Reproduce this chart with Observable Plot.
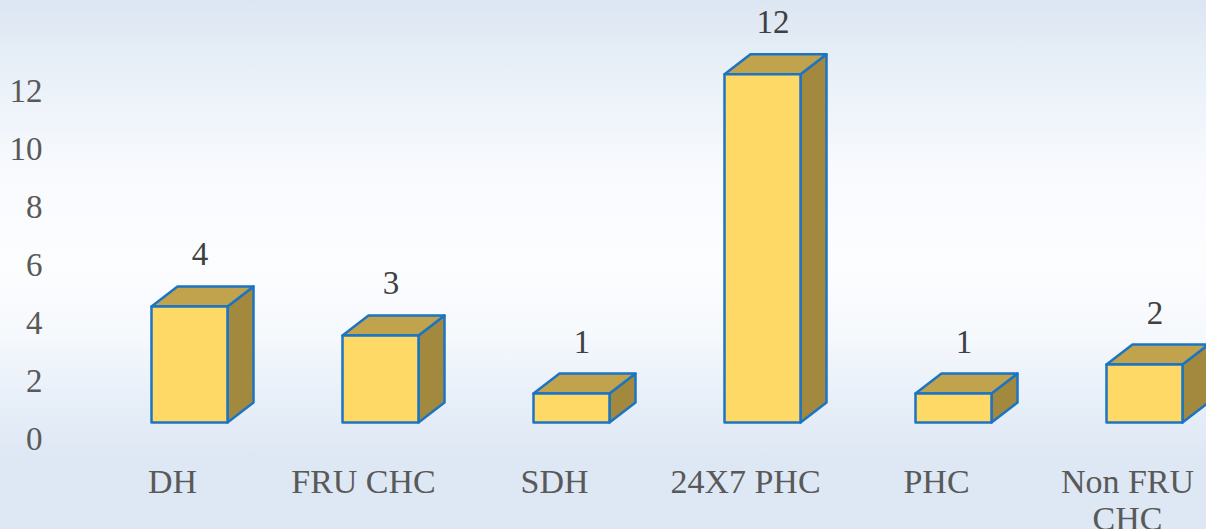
<!DOCTYPE html>
<html>
<head>
<meta charset="utf-8">
<script src="https://cdn.jsdelivr.net/npm/d3@7"></script>
<script src="https://cdn.jsdelivr.net/npm/@observablehq/plot@0.6"></script>
<style>
  html, body { margin: 0; padding: 0; background: #ffffff; }
  #chart svg { display: block; }
</style>
</head>
<body>
<div id="chart"></div>
<script>
const categories = ["DH", "FRU CHC", "SDH", "24X7 PHC", "PHC", "Non FRU CHC"];
const categoryLabels = ["DH", "FRU CHC", "SDH", "24X7 PHC", "PHC", "Non FRU\nCHC"];
const values = [4, 3, 1, 12, 1, 2];
const yTicks = [0, 2, 4, 6, 8, 10, 12];

const data = categories.map((c, i) => ({category: c, value: values[i]}));
const labelOf = new Map(categories.map((c, i) => [c, categoryLabels[i]]));

const FONT = "Liberation Serif";
const FRONT = "#FFD966", TOP = "#C1A34E", SIDE = "#A2893E", EDGE = "#1C74C2";
const SHIFT_X = 17.5, SHIFT_Y = -16.5;   // front-face offset in the 3D view
const DEPTH_X = 26, DEPTH_Y = -20;       // depth of the boxes

// top and side faces of each box, drawn through Plot's scales
function boxFaces(index, scales) {
  const x = scales.x, y = scales.y;
  const bw = typeof x.bandwidth === "function" ? x.bandwidth() : scales.scales.x.bandwidth;
  const g = d3.create("svg:g");
  for (const d of data) {
    const x0 = x(d.category) + SHIFT_X, x1 = x0 + bw;
    const yt = y(d.value) + SHIFT_Y, yb = y(0) + SHIFT_Y;
    const top = [[x0, yt], [x1, yt], [x1 + DEPTH_X, yt + DEPTH_Y], [x0 + DEPTH_X, yt + DEPTH_Y]];
    const side = [[x1, yt], [x1 + DEPTH_X, yt + DEPTH_Y], [x1 + DEPTH_X, yb + DEPTH_Y], [x1, yb]];
    for (const [pts, fill] of [[side, SIDE], [top, TOP]]) {
      g.append("path")
        .attr("d", "M" + pts.map(p => p.join(",")).join("L") + "Z")
        .attr("fill", fill)
        .attr("stroke", EDGE)
        .attr("stroke-width", 2.5)
        .attr("stroke-linejoin", "round");
    }
  }
  return g.node();
}

const chart = Plot.plot({
  width: 1206,
  height: 529,
  marginLeft: 74,
  marginRight: 0,
  marginTop: 90.7,
  marginBottom: 90,
  style: {
    color: "#595959",
    fontFamily: FONT,
    background: "linear-gradient(180deg, #dce6f2 0%, #e9f0f8 14%, #f8fafe 32%, #fcfdff 50%, #f5f8fc 64%, #e6eef8 77%, #dee8f4 86%, #dde8f4 100%)",
    overflow: "hidden"
  },
  x: {type: "band", domain: categories, range: [74, 1225], paddingInner: 0.6, paddingOuter: 0.3, label: null, axis: null},
  y: {domain: [0, 12], label: null, axis: null},
  marks: [
    boxFaces,
    Plot.barY(data, {
      x: "category", y: "value",
      fill: FRONT, stroke: EDGE, strokeWidth: 2.5, strokeLinejoin: "round",
      dx: SHIFT_X, dy: SHIFT_Y
    }),
    Plot.text(data, {
      x: "category", y: "value", text: d => String(d.value),
      dx: SHIFT_X + 10, dy: SHIFT_Y - 52,
      fontSize: 33, fill: "#404040", fontFamily: FONT, lineAnchor: "middle"
    }),
    Plot.axisY({
      ticks: yTicks, tickSize: 0, tickPadding: 32, fontSize: 33,
      fill: "#595959", label: null, fontFamily: FONT
    }),
    Plot.axisX({
      tickSize: 0, tickPadding: 27.6, fontSize: 34, lineHeight: 1.08,
      tickFormat: d => labelOf.get(d), fill: "#595959", label: null, fontFamily: FONT
    })
  ]
});

// make sure every text uses the serif face
d3.select(chart).selectAll("g[aria-label$='text'], g[aria-label*='tick label'], text")
  .attr("font-family", FONT)
  .style("font-family", FONT);

document.getElementById("chart").appendChild(chart);
</script>
</body>
</html>
